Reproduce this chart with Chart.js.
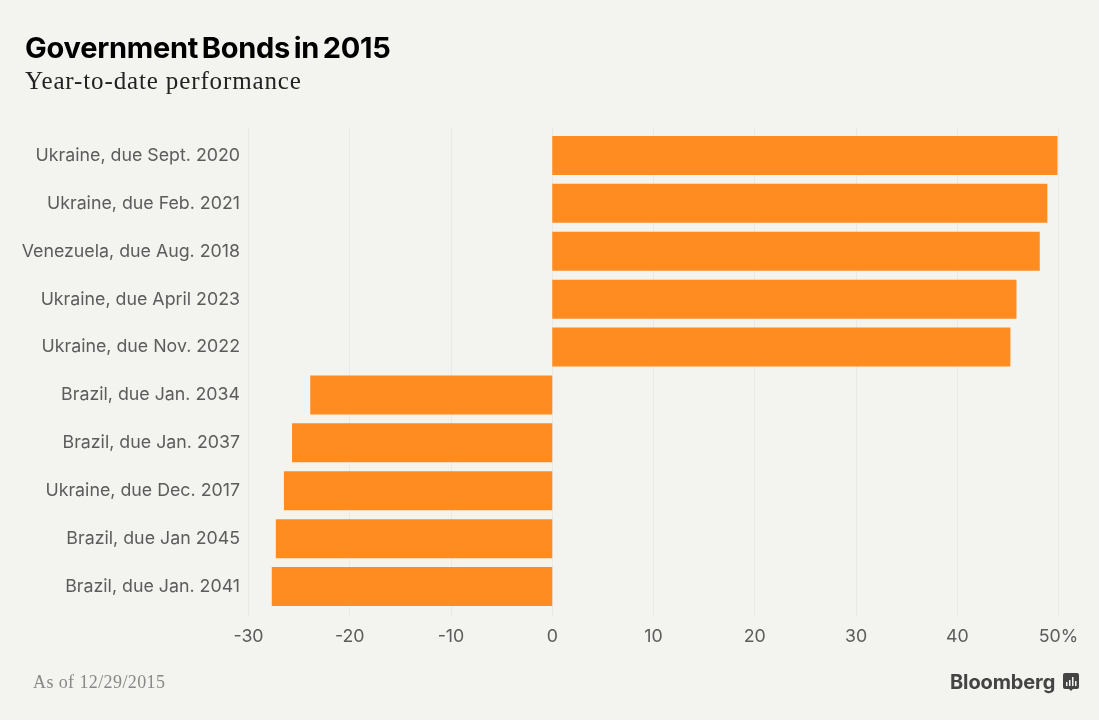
<!DOCTYPE html>
<html>
<head>
<meta charset="utf-8">
<script src="https://cdn.jsdelivr.net/npm/chart.js@4"></script>
<style>
  html, body { margin: 0; padding: 0; background: #f3f3ef; }
  #wrap { position: relative; width: 1099px; height: 720px; overflow: hidden; }
  #stockChart { position: absolute; left: 0; top: 0; }
  .txt { position: absolute; white-space: nowrap; }
  #title { left: 25px; top: 30px; font: 700 29px/36px Inter, sans-serif; color: #000; letter-spacing: -0.25px; word-spacing: -3px; }
  #sub { left: 25px; top: 67px; font: 400 25px/28px "Liberation Serif", serif; color: #222; letter-spacing: 0.87px; }
  #note { left: 33px; top: 671px; font: 400 18px/22px "Liberation Serif", serif; color: #888; letter-spacing: 0.4px; }
  #brand { left: 950px; top: 669px; font: 700 20px/26px Inter, sans-serif; color: #444; letter-spacing: -0.12px; }
  #mark { position: absolute; left: 1063px; top: 673px; }
</style>
</head>
<body>
<div id="wrap">
  <canvas id="stockChart" width="1099" height="720"></canvas>
  <div class="txt" id="title">Government Bonds in 2015</div>
  <div class="txt" id="sub">Year-to-date performance</div>
  <div class="txt" id="note">As of 12/29/2015</div>
  <div class="txt" id="brand">Bloomberg</div>
  <svg id="mark" width="16" height="20" viewBox="0 0 16 20">
    <path d="M2 0H14a2 2 0 0 1 2 2V14a2 2 0 0 1-2 2H10L8 18L6 16H2a2 2 0 0 1-2-2V2a2 2 0 0 1 2-2Z" fill="#444"/>
    <path d="M3 9h1.5v4H3zM6 7h1.5v6H6zM9 4h1.5v9H9zM12 8h1.5v5H12z" fill="#f3f3ef"/>
  </svg>
</div>
<script>
// 종목 이름 (위에서 아래 순서)
const bondNames = [
  'Ukraine, due Sept. 2020', 'Ukraine, due Feb. 2021', 'Venezuela, due Aug. 2018',
  'Ukraine, due April 2023', 'Ukraine, due Nov. 2022', 'Brazil, due Jan. 2034',
  'Brazil, due Jan. 2037', 'Ukraine, due Dec. 2017', 'Brazil, due Jan 2045', 'Brazil, due Jan. 2041'
];
const ytdReturns = [49.9, 48.9, 48.15, 45.85, 45.25, -23.9, -25.7, -26.5, -27.3, -27.7];
const xTicks = [-30, -20, -10, 0, 10, 20, 30, 40, 50];

const tickFont = { family: 'Inter, sans-serif', size: 17.8 };

// 격자선이 막대 영역보다 위아래로 조금 더 길게 나오도록 직접 그림
const longGrid = {
  id: 'longGrid',
  beforeDatasetsDraw(chart) {
    const { ctx, chartArea, scales } = chart;
    ctx.save();
    ctx.strokeStyle = '#e8e9e9';
    ctx.lineWidth = 1;
    xTicks.forEach(v => {
      const x = Math.floor(scales.x.getPixelForValue(v)) + 0.5;
      ctx.beginPath();
      ctx.moveTo(x, chartArea.top - 4.5);
      ctx.lineTo(x, chartArea.bottom + 5.5);
      ctx.stroke();
    });
    ctx.restore();
  }
};

new Chart(document.getElementById('stockChart').getContext('2d'), {
  type: 'bar',
  data: {
    labels: bondNames,
    datasets: [{
      data: ytdReturns,
      backgroundColor: '#ff8c21',
      borderWidth: 0,
      categoryPercentage: 1,
      barPercentage: 0.815
    }]
  },
  options: {
    indexAxis: 'y',
    responsive: false,
    animation: false,
    layout: { padding: { top: 131.5, right: 40.5, bottom: 69.5, left: 0 } },
    plugins: { legend: { display: false }, tooltip: { enabled: false } },
    scales: {
      x: {
        min: -30,
        max: 50,
        afterBuildTicks: axis => { axis.ticks = xTicks.map(v => ({ value: v })); },
        afterFit: axis => { axis.height = 40; },
        grid: { display: false, drawTicks: false },
        border: { display: false },
        ticks: {
          color: '#5c5c5c',
          font: tickFont,
          padding: 15,
          maxRotation: 0,
          callback: v => (v === 50 ? '50%' : String(v))
        }
      },
      y: {
        afterFit: axis => { axis.width = 248.5; },
        grid: { display: false, drawTicks: false },
        border: { display: false },
        ticks: { color: '#5c5c5c', font: tickFont, padding: 8.5, autoSkip: false }
      }
    }
  },
  plugins: [longGrid]
});
</script>
</body>
</html>
